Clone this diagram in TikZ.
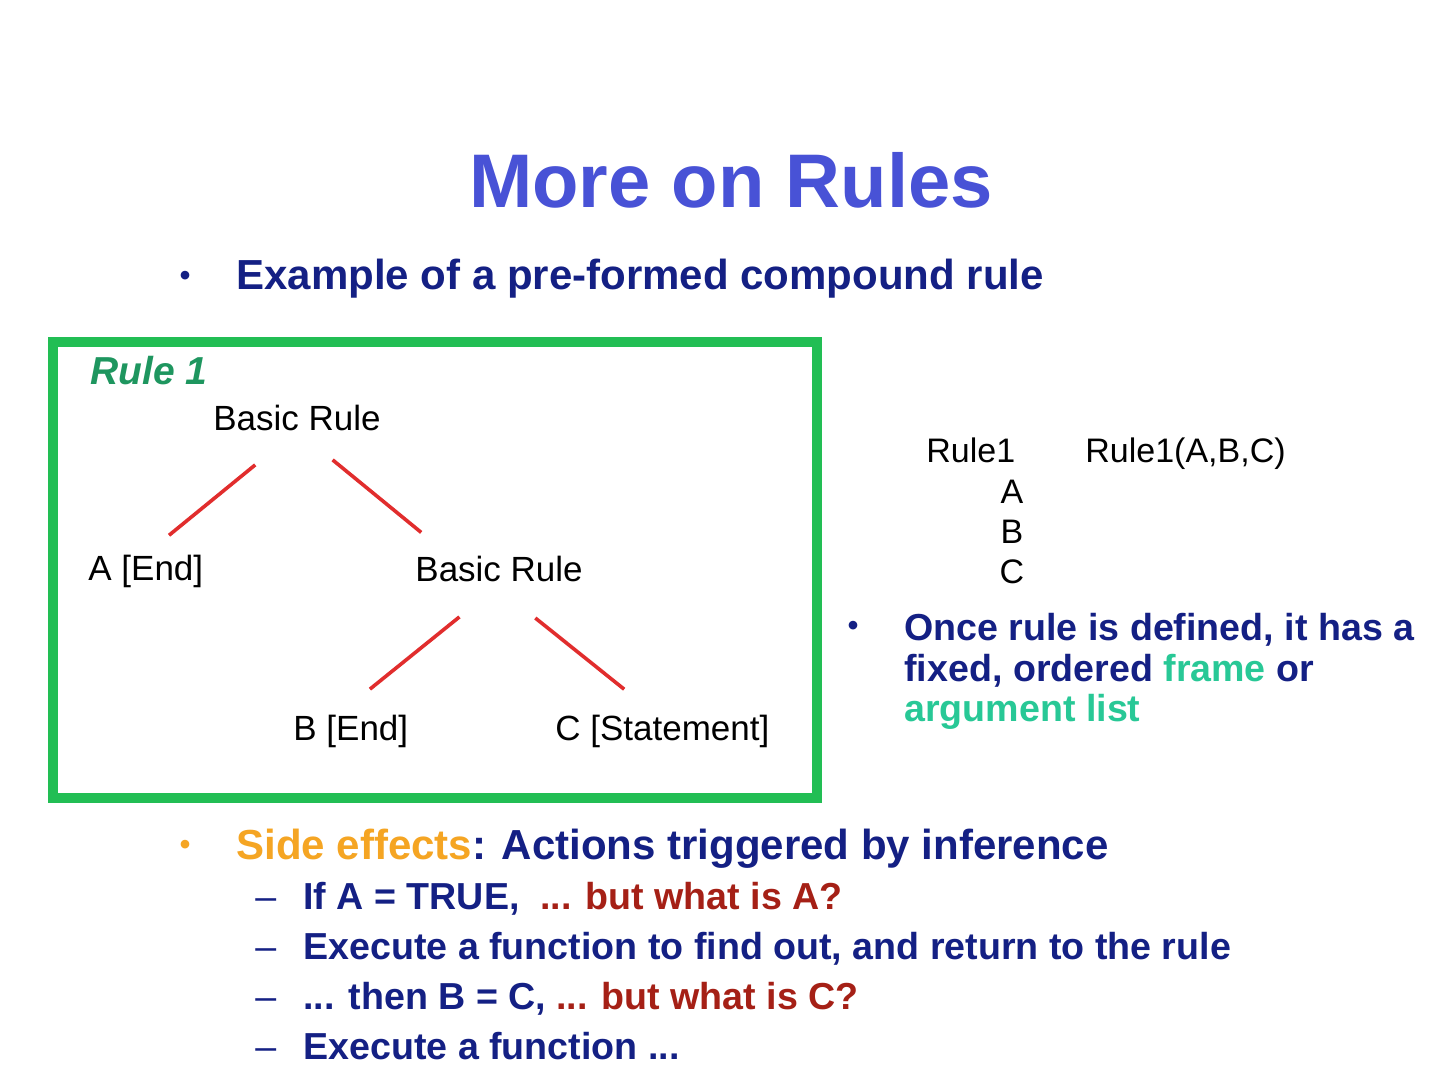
\documentclass[tikz,border=0pt]{standalone}
\usepackage{fontspec}
\setmainfont{Liberation Sans}
\usepackage{xcolor}
\usetikzlibrary{positioning}
\definecolor{titleblue}{RGB}{72,82,214}
\definecolor{navy}{RGB}{20,32,132}
\definecolor{boxgreen}{RGB}{34,190,84}
\definecolor{rulegreen}{RGB}{30,150,95}
\definecolor{framegreen}{RGB}{40,200,150}
\definecolor{sideorange}{RGB}{245,165,35}
\definecolor{askred}{RGB}{165,32,22}
\definecolor{branchred}{RGB}{225,45,45}

\begin{document}
\begin{tikzpicture}[x=0.5pt,y=-0.5pt,
  every node/.style={inner sep=0pt,anchor=base west},
  maintxt/.style={font=\fontsize{21}{25}\selectfont\bfseries,text=navy},
  subtxt/.style={font=\fontsize{18.8}{22}\selectfont\bfseries,text=navy},
  treetxt/.style={font=\fontsize{17.5}{21}\selectfont,text=black},
  bullet/.style={anchor=center,font=\fontsize{15}{17}\selectfont\bfseries,text=navy},
  branch/.style={branchred,line width=1.8pt}]
\fill[white] (0,0) rectangle (1440,1080);
\node[anchor=base,font=\fontsize{38}{44}\selectfont\bfseries,text=titleblue] (title) at (731,208) {More on Rules};
\node[bullet] (dot1) at (185,278) {•};
\node[maintxt] (example) at (236,290) {Example of a pre-formed compound rule};
\draw[boxgreen,line width=5pt] (53,342) rectangle (817,798);
\node[font=\fontsize{19.5}{23}\selectfont\bfseries\itshape,text=rulegreen] (rulename) at (90,385) {Rule 1};
\node[treetxt] (root) at (213,430) {Basic Rule};
\node[treetxt] (a) at (88,580) {A [End]};
\node[treetxt] (sub) at (415,581) {Basic Rule};
\node[treetxt] (b) at (293,740) {B [End]};
\node[treetxt] (c) at (555,740) {C [Statement]};
\draw[branch,shorten <=27pt,shorten >=15pt] (root.south) -- (a.north);
\draw[branch,shorten <=23pt,shorten >=18pt] (root.south) -- ([xshift=-25pt]sub.north);
\draw[branch,shorten <=28pt,shorten >=20pt] ([xshift=2pt]sub.south) -- ([xshift=-6pt]b.north);
\draw[branch,shorten <=29pt,shorten >=20pt] ([xshift=-4.5pt]sub.south) -- ([xshift=-3.5pt]c.north);
\node[treetxt,font=\fontsize{17}{20}\selectfont] (rone) at (926,463) {Rule1};
\node[treetxt,font=\fontsize{17}{20}\selectfont] (rargs) at (1085,463) {Rule1(A,B,C)};
\node[treetxt,font=\fontsize{17}{20}\selectfont,anchor=base] (ra) at (1012,503) {A};
\node[treetxt,font=\fontsize{17}{20}\selectfont,anchor=base] (rb) at (1012,543) {B};
\node[treetxt,font=\fontsize{17}{20}\selectfont,anchor=base] (rc) at (1012,583) {C};
\node[bullet] (dot2) at (853,628) {•};
\node[subtxt] (once1) at (904,640) {Once rule is defined, it has a};
\node[subtxt] (once2) at (904,681) {fixed, ordered \textcolor{framegreen}{frame} or};
\node[subtxt,text=framegreen] (once3) at (904,721) {argument list};
\node[bullet,text=sideorange] (dot3) at (185,847) {•};
\node[maintxt] (side) at (236,859) {\textcolor{sideorange}{Side effects}: Actions triggered by inference};
\foreach \y in {909,959,1009,1059}
  \node[subtxt,font=\fontsize{18.8}{22}\selectfont] (dash\y) at (255,\y) {–};
\node[subtxt] (s1) at (303,909) {If A = TRUE,\ \ \textcolor{askred}{... but what is A?}};
\node[subtxt] (s2) at (303,959) {Execute a function to find out, and return to the rule};
\node[subtxt] (s3) at (303,1009) {... then B = C, \textcolor{askred}{... but what is C?}};
\node[subtxt] (s4) at (303,1059) {Execute a function ...};
\end{tikzpicture}
\end{document}
